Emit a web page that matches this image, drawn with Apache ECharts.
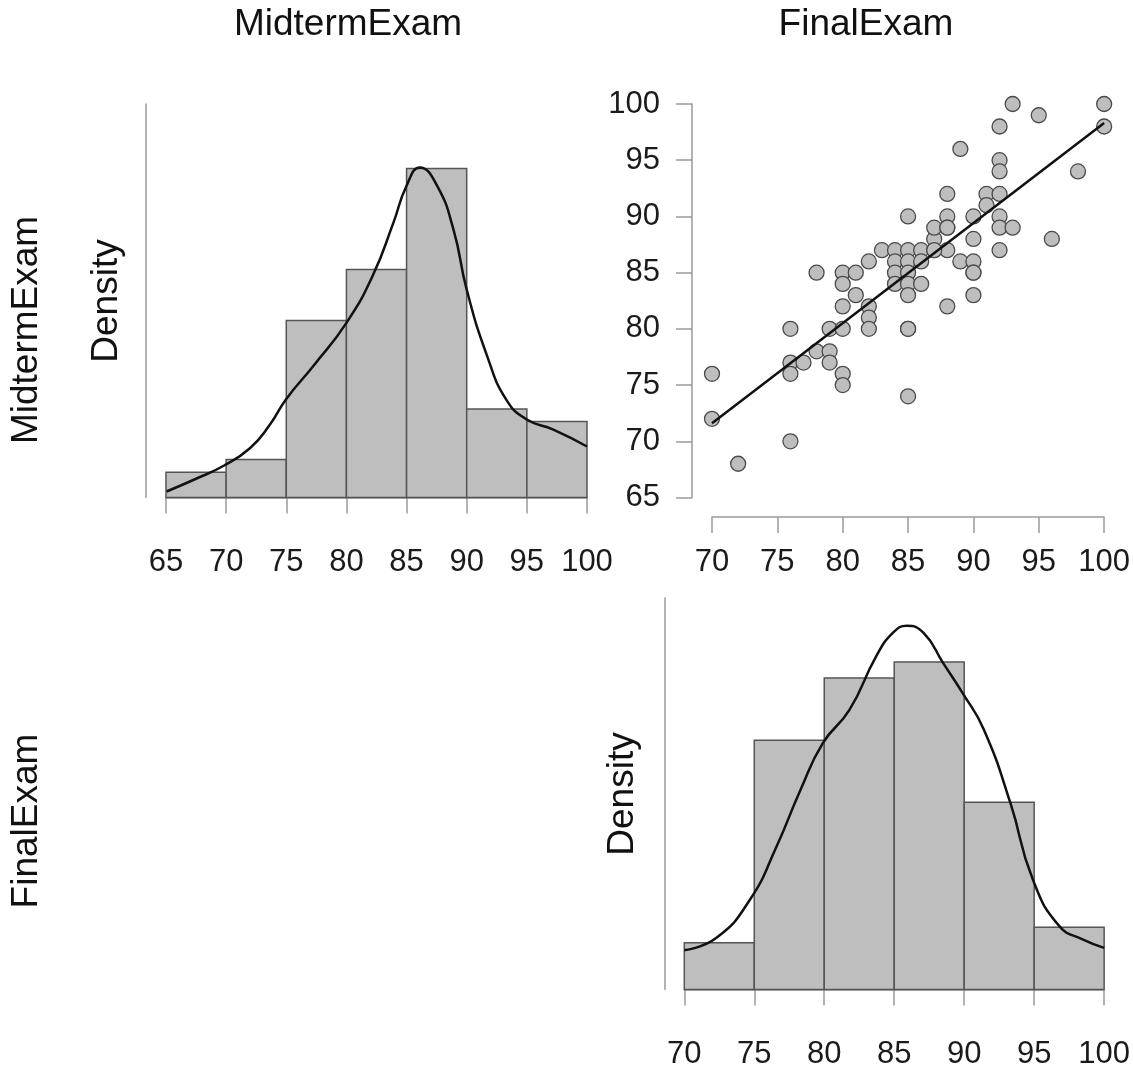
<!DOCTYPE html>
<html>
<head>
<meta charset="utf-8">
<script src="https://cdn.jsdelivr.net/npm/echarts@6/dist/echarts.min.js"></script>
<style>
html,body{margin:0;padding:0;background:#fff;}
#chart{width:1133px;height:1070px;}
</style>
</head>
<body>
<div id="chart"></div>
<script>
// ---------- data ----------
const variableNames = ['MidtermExam', 'FinalExam'];

// MidtermExam histogram (bin edges, density per bin)
const midtermBinEdges = [65, 70, 75, 80, 85, 90, 95, 100];
const midtermDensity = [0.00526, 0.00789, 0.0368, 0.0474, 0.0684, 0.0184, 0.0158];
// MidtermExam density curve
const midtermCurveX = [65.05, 67.5, 69.8, 72.0, 73.6, 75.0, 77.3, 80.0, 82.2, 83.9, 85.0, 86.1, 87.5, 88.9, 90.0, 91.7, 93.3, 95.0, 97.2, 100.0];
const midtermCurveY = [0.00125, 0.0039, 0.0066, 0.0103, 0.0150, 0.0205, 0.0275, 0.0363, 0.0462, 0.0571, 0.0648, 0.0686, 0.0650, 0.0557, 0.0432, 0.0294, 0.0203, 0.0162, 0.0141, 0.0106];

// FinalExam histogram
const finalBinEdges = [70, 75, 80, 85, 90, 95, 100];
const finalDensity = [0.00789, 0.0421, 0.0526, 0.0553, 0.0316, 0.0105];
// FinalExam density curve
const finalCurveX = [70.0, 72.3, 74.7, 76.6, 78.3, 79.9, 81.8, 83.7, 84.9, 85.9, 87.1, 88.5, 89.9, 91.4, 93.3, 94.9, 96.8, 98.5, 100.0];
const finalCurveY = [0.00663, 0.00872, 0.0152, 0.0242, 0.0337, 0.0416, 0.0472, 0.0562, 0.0602, 0.0614, 0.0602, 0.0551, 0.0500, 0.0439, 0.0315, 0.0186, 0.0107, 0.00843, 0.00703];

// Scatter: FinalExam (x) vs MidtermExam (y)
const finalScores = [70, 70, 72, 76, 76, 76, 76, 77, 78, 79, 79, 79, 80, 80, 80, 78, 80, 80, 81, 81,
  80, 82, 82, 82, 82, 83, 84, 85, 86, 87, 87, 88, 84, 85, 86, 84, 85, 84, 85, 86,
  85, 85, 85, 85, 88, 89, 90, 90, 90, 90, 88, 91, 92, 91, 88, 90, 92, 87, 88, 92,
  93, 92, 96, 89, 92, 92, 92, 93, 95, 100, 100, 98, 85, 90, 87, 88];
const midtermScores = [76, 72, 68, 70, 80, 77, 76, 77, 78, 78, 77, 80, 80, 76, 75, 85, 85, 84, 85, 83,
  82, 82, 81, 80, 86, 87, 87, 87, 87, 87, 88, 87, 86, 86, 86, 85, 85, 84, 84, 84,
  83, 80, 74, 90, 82, 86, 86, 85, 83, 88, 92, 92, 92, 91, 90, 90, 90, 89, 89, 89,
  89, 87, 88, 96, 98, 95, 94, 100, 99, 100, 98, 94, 80, 85, 87, 89];
// Regression line end points
const regLineX = [70, 100];
const regLineY = [71.6, 98.3];

// Tick settings
const midtermTicks = {min: 65, max: 100, interval: 5};
const finalTicks = {min: 70, max: 100, interval: 5};

// ---------- build chart ----------
const FONT = 'Liberation Sans, Arial, sans-serif';
const TICK_FS = 31;
const TITLE_FS = 37;
const AXIS_GRAY = '#9a9a9a';

function histData(edges, dens) {
  const out = [];
  for (let i = 0; i < dens.length; i++) out.push([edges[i], edges[i + 1], dens[i]]);
  return out;
}
function zip(a, b) { return a.map((v, i) => [v, b[i]]); }

function renderHist(params, api) {
  const p0 = api.coord([api.value(0), api.value(2)]);
  const p1 = api.coord([api.value(1), 0]);
  return {
    type: 'rect',
    shape: {x: p0[0], y: p0[1], width: p1[0] - p0[0], height: p1[1] - p0[1]},
    style: {fill: '#bebebe', stroke: '#555555', lineWidth: 1.5}
  };
}

function valueXAxis(gridIndex, ticks) {
  return {
    type: 'value', gridIndex: gridIndex, min: ticks.min, max: ticks.max, interval: ticks.interval,
    offset: 19.5,
    axisLine: {show: true, lineStyle: {color: AXIS_GRAY, width: 1.5}},
    axisTick: {show: true, length: 16, lineStyle: {color: AXIS_GRAY, width: 1.5}},
    axisLabel: {show: true, margin: 30, fontSize: TICK_FS, color: '#1a1a1a', fontFamily: FONT,
      showMinLabel: true, showMaxLabel: true, hideOverlap: false},
    splitLine: {show: false}
  };
}
function densityYAxis(gridIndex, maxVal) {
  return {
    type: 'value', gridIndex: gridIndex, min: 0, max: maxVal, offset: 20,
    axisLine: {show: true, lineStyle: {color: AXIS_GRAY, width: 1.5}},
    axisTick: {show: false}, axisLabel: {show: false}, splitLine: {show: false}
  };
}

const chart = echarts.init(document.getElementById('chart'), null, {renderer: 'canvas'});

const option = {
  animation: false,
  backgroundColor: '#ffffff',
  grid: [
    {left: 166, top: 104, width: 421, height: 393.5},
    {left: 712, top: 104, width: 393, height: 393.5},
    {left: 684.3, top: 598, width: 420, height: 392}
  ],
  xAxis: [
    valueXAxis(0, midtermTicks),
    valueXAxis(1, finalTicks),
    valueXAxis(2, finalTicks)
  ],
  yAxis: [
    densityYAxis(0, 0.0818),
    {
      type: 'value', gridIndex: 1, min: midtermTicks.min, max: midtermTicks.max, interval: midtermTicks.interval,
      offset: 20,
      axisLine: {show: true, lineStyle: {color: AXIS_GRAY, width: 1.5}},
      axisTick: {show: true, length: 16, lineStyle: {color: AXIS_GRAY, width: 1.5}},
      axisLabel: {show: true, margin: 32, fontSize: TICK_FS, color: '#1a1a1a', fontFamily: FONT},
      splitLine: {show: false}
    },
    densityYAxis(2, 0.0661)
  ],
  series: [
    {type: 'custom', xAxisIndex: 0, yAxisIndex: 0, renderItem: renderHist,
      encode: {x: [0, 1], y: 2}, data: histData(midtermBinEdges, midtermDensity), z: 2},
    {type: 'line', xAxisIndex: 0, yAxisIndex: 0, data: zip(midtermCurveX, midtermCurveY),
      smooth: 0.5, showSymbol: false, symbol: 'none', lineStyle: {color: '#111', width: 2.5}, z: 3},
    {type: 'scatter', xAxisIndex: 1, yAxisIndex: 1, data: zip(finalScores, midtermScores),
      symbol: 'circle', symbolSize: 15,
      itemStyle: {color: '#bebebe', borderColor: '#4a4a4a', borderWidth: 1.3, opacity: 1}, z: 2},
    {type: 'line', xAxisIndex: 1, yAxisIndex: 1, data: zip(regLineX, regLineY),
      showSymbol: false, symbol: 'none', lineStyle: {color: '#111', width: 2.5}, z: 3},
    {type: 'custom', xAxisIndex: 2, yAxisIndex: 2, renderItem: renderHist,
      encode: {x: [0, 1], y: 2}, data: histData(finalBinEdges, finalDensity), z: 2},
    {type: 'line', xAxisIndex: 2, yAxisIndex: 2, data: zip(finalCurveX, finalCurveY),
      smooth: 0.5, showSymbol: false, symbol: 'none', lineStyle: {color: '#111', width: 2.5}, z: 3}
  ],
  graphic: [
    {type: 'text', x: 348, y: 25, style: {text: variableNames[0], font: TITLE_FS + 'px ' + FONT, fill: '#111', align: 'center', verticalAlign: 'middle'}},
    {type: 'text', x: 866, y: 25, style: {text: variableNames[1], font: TITLE_FS + 'px ' + FONT, fill: '#111', align: 'center', verticalAlign: 'middle'}},
    {type: 'text', x: 27, y: 330, rotation: Math.PI / 2, style: {text: variableNames[0], font: TITLE_FS + 'px ' + FONT, fill: '#111', align: 'center', verticalAlign: 'middle'}},
    {type: 'text', x: 27, y: 821, rotation: Math.PI / 2, style: {text: variableNames[1], font: TITLE_FS + 'px ' + FONT, fill: '#111', align: 'center', verticalAlign: 'middle'}},
    {type: 'text', x: 107, y: 301, rotation: Math.PI / 2, style: {text: 'Density', font: TITLE_FS + 'px ' + FONT, fill: '#111', align: 'center', verticalAlign: 'middle'}},
    {type: 'text', x: 623, y: 794, rotation: Math.PI / 2, style: {text: 'Density', font: TITLE_FS + 'px ' + FONT, fill: '#111', align: 'center', verticalAlign: 'middle'}}
  ]
};
chart.setOption(option);
</script>
</body>
</html>
